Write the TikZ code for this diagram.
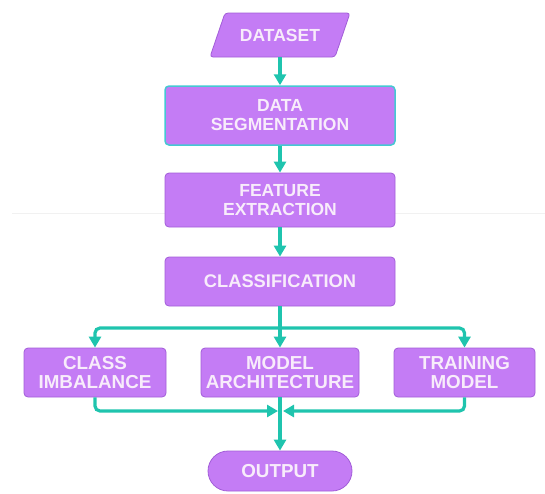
\documentclass[tikz,border=0pt]{standalone}
\usepackage{fontspec}
\setmainfont{Liberation Sans}
\usetikzlibrary{arrows.meta}
\definecolor{boxfill}{HTML}{C47CF5}
\definecolor{boxedge}{HTML}{A25DD8}
\definecolor{flow}{HTML}{1FC4AE}
\definecolor{segedge}{HTML}{45C8D2}
\definecolor{labelcol}{HTML}{F8ECFB}
\definecolor{seam}{HTML}{F1F1F1}
\tikzset{
  proc/.style={draw=boxedge, line width=0.8pt, fill=boxfill, rounded corners=4pt,
    text=labelcol, align=center, inner sep=0pt,
    font=\fontsize{17.5}{19}\selectfont\bfseries},
  lowproc/.style={proc, font=\fontsize{18.8}{18.5}\selectfont\bfseries},
  flowline/.style={draw=flow, line width=3.2pt, rounded corners=5pt,
    -{Triangle[width=12pt,length=11pt]}},
  flowplain/.style={draw=flow, line width=3.2pt, rounded corners=5pt},
}
\begin{document}
\begin{tikzpicture}[x=1pt,y=-1pt]
\useasboundingbox (0,0) rectangle (545,493);

% faint horizontal rule across the page
\draw[seam, line width=1pt] (12,213) -- (545,213);

% input parallelogram
\filldraw[draw=boxedge, line width=0.8pt, fill=boxfill, rounded corners=3pt]
  (225,13) -- (350,13) -- (335,57) -- (210,57) -- cycle;
\node[text=labelcol, font=\fontsize{17.5}{19}\selectfont\bfseries,
      minimum width=125pt, minimum height=44pt, inner sep=0pt]
  (dataset) at (280,35) {DATASET};

% processing chain
\node[proc, draw=segedge, line width=1.5pt, minimum width=230pt, minimum height=59pt]
  (dataseg) at (280,115.5) {DATA\\SEGMENTATION};
\node[proc, minimum width=230pt, minimum height=54pt]
  (feat) at (280,200) {FEATURE\\EXTRACTION};
\node[proc, minimum width=230pt, minimum height=49pt, font=\fontsize{18.3}{19}\selectfont\bfseries]
  (classif) at (280,281.5) {CLASSIFICATION};

% three parallel branches
\node[lowproc, minimum width=142pt, minimum height=49pt]
  (cimb) at (95,372.5) {CLASS\\IMBALANCE};
\node[lowproc, minimum width=158pt, minimum height=49pt]
  (march) at (280,372.5) {MODEL\\ARCHITECTURE};
\node[lowproc, minimum width=141pt, minimum height=49pt]
  (train) at (464.5,372.5) {TRAINING\\MODEL};

% terminal
\node[proc, lowproc, rounded corners=20pt, minimum width=144pt, minimum height=40pt]
  (output) at (280,471) {OUTPUT};

% connectors
\coordinate (split) at (280,328);
\coordinate (joinL) at (278,411);
\coordinate (joinR) at (283,411);

\draw[flowline] (dataset.south) -- (dataseg.north);
\draw[flowline] (dataseg.south) -- (feat.north);
\draw[flowline] (feat.south) -- (classif.north);
\draw[flowplain] (classif.south) -- (split);
\draw[flowline] (split) -| (cimb.north);
\draw[flowline] (split) -- (march.north);
\draw[flowline] (split) -| (train.north);
\draw[flowline] (cimb.south) |- (joinL);
\draw[flowline] (train.south) |- (joinR);
\draw[flowline] (march.south) -- (output.north);
\end{tikzpicture}
\end{document}
